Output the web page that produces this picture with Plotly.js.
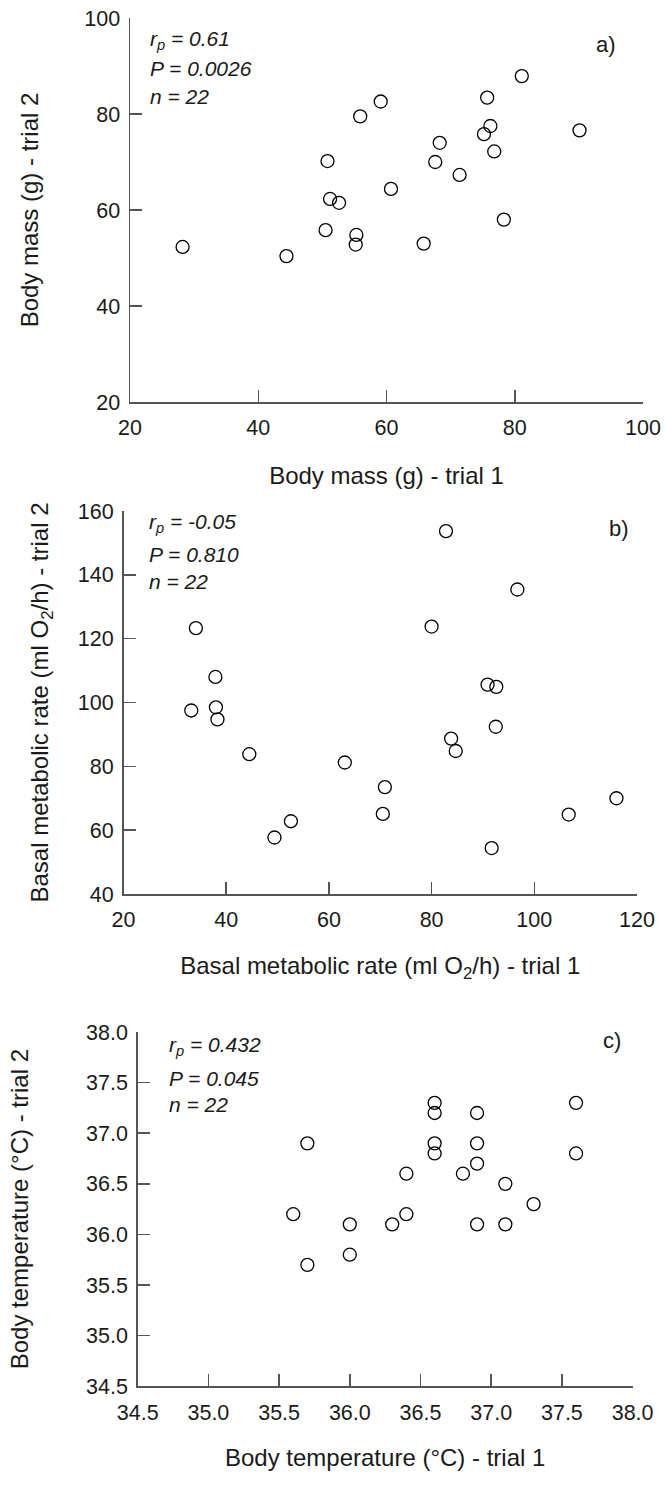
<!DOCTYPE html>
<html>
<head>
<meta charset="utf-8">
<script src="https://cdn.plot.ly/plotly-3.0.1.min.js"></script>
<style>html,body{margin:0;padding:0;background:#fff;}#chart{width:665px;height:1492px;}</style>
</head>
<body>
<div id="chart"></div>
<script>
// Panel a: body mass (g)
const massTrial1 = [28.2, 44.4, 50.5, 50.8, 51.2, 52.6, 55.3, 55.2, 55.9, 59.1, 60.7, 65.8, 67.6, 68.3, 71.4, 75.2, 75.7, 76.2, 76.8, 78.3, 81.1, 90.1];
const massTrial2 = [52.3, 50.4, 55.8, 70.2, 62.3, 61.5, 54.8, 52.8, 79.5, 82.6, 64.4, 53.0, 70.0, 74.0, 67.3, 75.8, 83.4, 77.5, 72.2, 58.0, 87.9, 76.6];
// Panel b: basal metabolic rate (ml O2/h)
const bmrTrial1 = [34.1, 33.2, 37.9, 38.0, 38.3, 44.5, 49.4, 52.6, 63.1, 70.5, 70.9, 80.0, 82.8, 83.8, 84.7, 90.9, 92.6, 92.5, 91.7, 96.7, 106.7, 116.0];
const bmrTrial2 = [123.3, 97.5, 108.0, 98.5, 94.7, 83.8, 57.7, 62.8, 81.2, 65.1, 73.5, 123.8, 153.7, 88.7, 84.8, 105.6, 104.9, 92.4, 54.4, 135.4, 64.9, 70.0];
// Panel c: body temperature (°C)
const tempTrial1 = [35.6, 35.7, 35.7, 36.0, 36.0, 36.3, 36.4, 36.4, 36.6, 36.6, 36.6, 36.6, 36.8, 36.9, 36.9, 36.9, 36.9, 37.1, 37.1, 37.3, 37.6, 37.6];
const tempTrial2 = [36.2, 36.9, 35.7, 36.1, 35.8, 36.1, 36.6, 36.2, 37.3, 37.2, 36.9, 36.8, 36.6, 37.2, 36.9, 36.7, 36.1, 36.5, 36.1, 36.3, 37.3, 36.8];

const panelLabels = ['a)', 'b)', 'c)'];
const statsR = ['0.61', '-0.05', '0.432'];
const statsP = ['0.0026', '0.810', '0.045'];
const statsN = ['22', '22', '22'];

const xTitles = ['Body mass (g) - trial 1', 'Basal metabolic rate (ml O<sub>2</sub>/h) - trial 1', 'Body temperature (°C) - trial 1'];
const yTitles = ['Body mass (g) - trial 2', 'Basal metabolic rate (ml O<sub>2</sub>/h) - trial 2', 'Body temperature (°C) - trial 2'];

const W = 665, H = 1492;
const FONT = 'Liberation Sans, Arial, sans-serif';
const TXT = '#1a1a1a';
const AX = '#555555';
const px = v => v / W;
const py = v => 1 - v / H;

const marker = {symbol: 'circle-open', size: 13, color: '#000', line: {width: 1.3, color: '#000'}};
function tr(x, y, xa, ya) {
  return {x: x, y: y, xaxis: xa, yaxis: ya, type: 'scatter', mode: 'markers', marker: marker, cliponaxis: false, showlegend: false, hoverinfo: 'x+y'};
}
const data = [
  tr(massTrial1, massTrial2, 'x', 'y'),
  tr(bmrTrial1, bmrTrial2, 'x2', 'y2'),
  tr(tempTrial1, tempTrial2, 'x3', 'y3')
];

function axis(domain, range, dtick, anchor, title, standoff, fmt, lstand) {
  const a = {
    domain: domain, range: range, dtick: dtick, tick0: range[0], anchor: anchor,
    showline: true, linecolor: AX, linewidth: 1.5, mirror: false,
    ticks: 'inside', ticklen: 12, tickwidth: 1.5, tickcolor: AX,
    showgrid: false, zeroline: false,
    tickfont: {family: FONT, size: 21.5, color: TXT},
    title: {text: title, font: {family: FONT, size: 24, color: TXT}, standoff: standoff},
    automargin: false, fixedrange: true, ticklabelstandoff: lstand
  };
  if (fmt) a.tickformat = fmt;
  return a;
}

const layout = {
  width: W, height: H,
  margin: {l: 0, r: 0, t: 0, b: 0},
  paper_bgcolor: '#fff', plot_bgcolor: '#fff',
  showlegend: false,
  xaxis:  axis([px(130), px(643)], [20, 100], 20, 'y', xTitles[0], 28, null, 6),
  yaxis:  axis([py(402), py(18)], [20, 100], 20, 'x', yTitles[0], 39, null, 4),
  xaxis2: axis([px(123.5), px(637)], [20, 120], 20, 'y2', xTitles[1], 26, null, 6),
  yaxis2: axis([py(894), py(511)], [40, 160], 20, 'x2', yTitles[1], 22, null, 4),
  xaxis3: axis([px(137.7), px(632.6)], [34.5, 38.0], 0.5, 'y3', xTitles[2], 25, '.1f', 6),
  yaxis3: axis([py(1386.3), py(1032)], [34.5, 38.0], 0.5, 'x3', yTitles[2], 50, '.1f', 4),
  annotations: []
};

const statPos = [
  {x: 148, y: [40, 68, 96], lab: [606, 45]},
  {x: 147, y: [523, 554, 582], lab: [619, 528]},
  {x: 167, y: [1046, 1078, 1104], lab: [612, 1040]}
];
statPos.forEach((s, i) => {
  const f = {family: FONT, size: 21, color: TXT};
  const lines = [
    '<i>r<sub>p</sub> = ' + statsR[i] + '</i>',
    '<i>P = ' + statsP[i] + '</i>',
    '<i>n = ' + statsN[i] + '</i>'
  ];
  lines.forEach((t, j) => {
    layout.annotations.push({xref: 'paper', yref: 'paper', x: px(s.x), y: py(s.y[j]), xanchor: 'left', yanchor: 'middle', text: t, showarrow: false, font: f});
  });
  layout.annotations.push({xref: 'paper', yref: 'paper', x: px(s.lab[0]), y: py(s.lab[1]), xanchor: 'center', yanchor: 'middle', text: panelLabels[i], showarrow: false, font: {family: FONT, size: 22, color: TXT}});
});

Plotly.newPlot('chart', data, layout, {staticPlot: true, displayModeBar: false});
</script>
</body>
</html>
